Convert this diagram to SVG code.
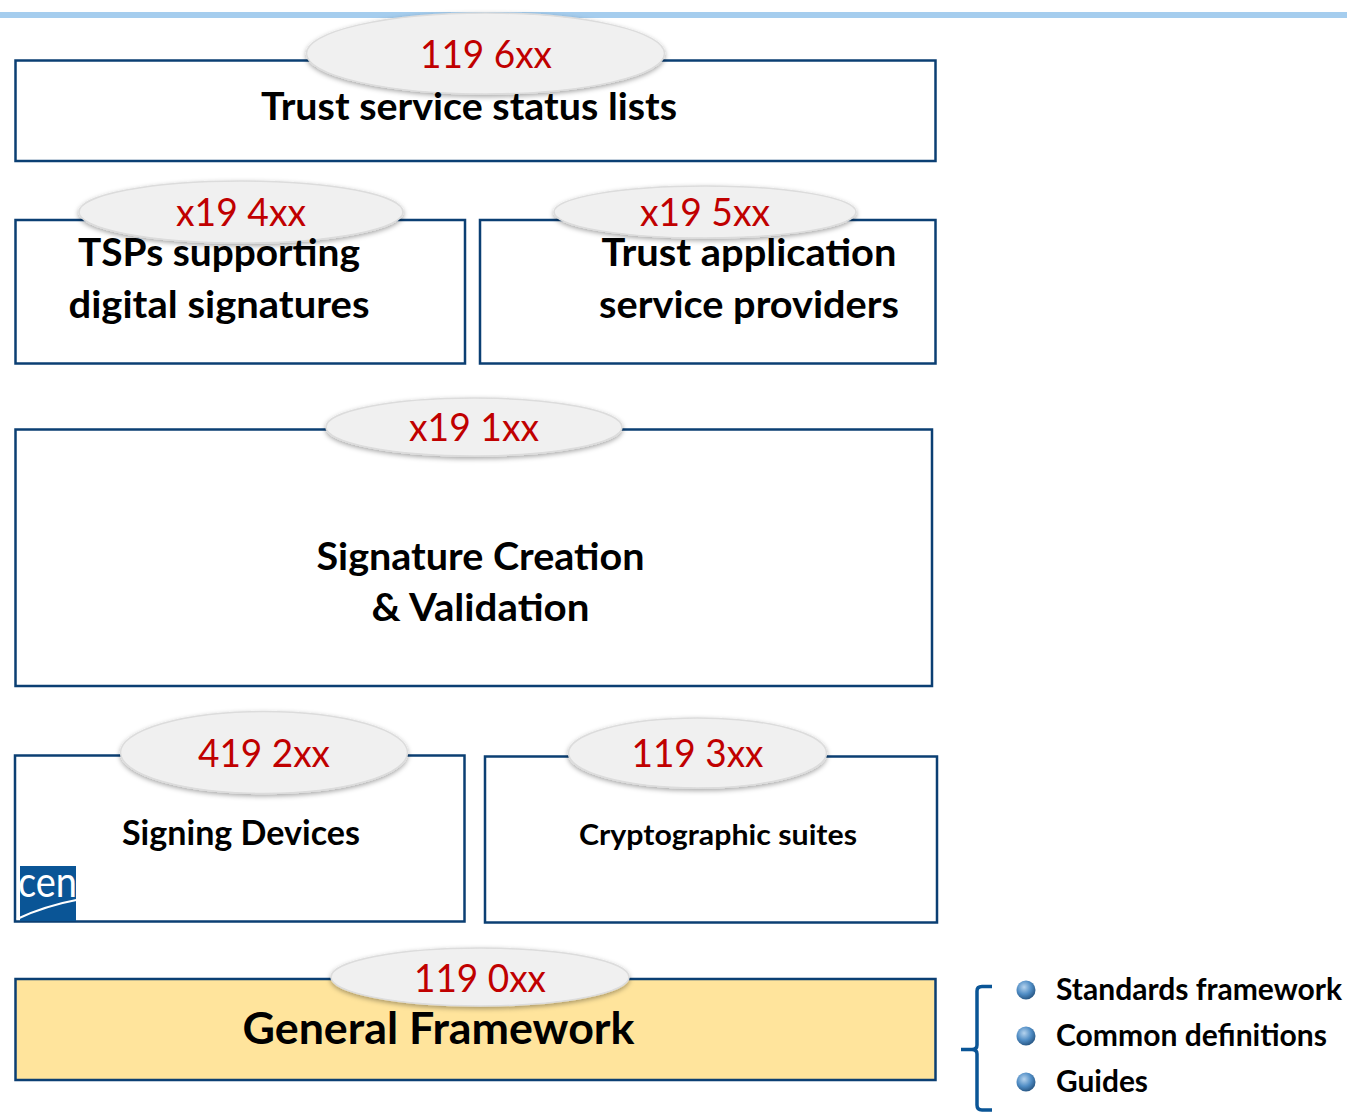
<svg xmlns="http://www.w3.org/2000/svg" width="1347" height="1112" viewBox="0 0 1347 1112">
<style>
.box{fill:#fff;stroke:#0b3f73;stroke-width:2.5}
.oval{fill:#f0f0f0;stroke:#dcdcdc;stroke-width:1.5;filter:url(#sh)}
.num{font-family:Lato,"Liberation Sans",sans-serif;font-size:38px;fill:#c00000;text-anchor:middle}
.t{font-family:Lato,"Liberation Sans",sans-serif;font-weight:700;font-size:38px;fill:#000;text-anchor:middle}
.li{font-family:Lato,"Liberation Sans",sans-serif;font-weight:700;font-size:30px;fill:#000}
</style>
<defs>
<filter id="sh" x="-10%" y="-25%" width="120%" height="150%"><feDropShadow dx="0" dy="2" stdDeviation="2.5" flood-color="#000" flood-opacity=".35"/></filter>
<radialGradient id="ball" cx=".4" cy=".35" r=".7"><stop offset="0" stop-color="#b5d3ee"/><stop offset=".55" stop-color="#4f8cc4"/><stop offset="1" stop-color="#23507c"/></radialGradient>
</defs>
<rect x="0" y="12" width="1347" height="6" fill="#a5cdee"/>
<g id="node-status">
<rect class="box" x="15.500" y="60.500" width="920" height="100.500"/>
<ellipse class="oval" cx="485.500" cy="53.500" rx="179" ry="40.500"/>
<text class="num" x="486" y="68" textLength="132" lengthAdjust="spacingAndGlyphs">119 6xx</text>
<text class="t" x="469" y="120" textLength="416" lengthAdjust="spacingAndGlyphs">Trust service status lists</text>
</g>
<g id="node-tsp">
<rect class="box" x="15.500" y="220" width="449.500" height="143.500"/>
<ellipse class="oval" cx="241" cy="212" rx="162" ry="31"/>
<text class="num" x="241" y="226" textLength="130" lengthAdjust="spacingAndGlyphs">x19 4xx</text>
<text class="t" x="219" y="266" textLength="282" lengthAdjust="spacingAndGlyphs">TSPs supporting</text>
<text class="t" x="219" y="318" textLength="301" lengthAdjust="spacingAndGlyphs">digital signatures</text>
</g>
<g id="node-trust-app">
<rect class="box" x="480" y="220" width="455.500" height="143.500"/>
<ellipse class="oval" cx="705" cy="212" rx="151" ry="26"/>
<text class="num" x="705" y="226" textLength="130" lengthAdjust="spacingAndGlyphs">x19 5xx</text>
<text class="t" x="749" y="266" textLength="295" lengthAdjust="spacingAndGlyphs">Trust application</text>
<text class="t" x="749" y="318" textLength="300" lengthAdjust="spacingAndGlyphs">service providers</text>
</g>
<g id="node-signature">
<rect class="box" x="15.500" y="429.500" width="916.500" height="256.500"/>
<ellipse class="oval" cx="474" cy="427" rx="148" ry="29"/>
<text class="num" x="474" y="441" textLength="130" lengthAdjust="spacingAndGlyphs">x19 1xx</text>
<text class="t" x="480.500" y="570" textLength="328" lengthAdjust="spacingAndGlyphs">Signature Creation</text>
<text class="t" x="480.500" y="621" textLength="218" lengthAdjust="spacingAndGlyphs">&amp; Validation</text>
</g>
<g id="node-devices">
<rect class="box" x="15" y="755.500" width="449.500" height="166"/>
<ellipse class="oval" cx="264" cy="752.500" rx="143.500" ry="41"/>
<text class="num" x="264" y="767" textLength="132" lengthAdjust="spacingAndGlyphs">419 2xx</text>
<text class="t" x="241" y="845" font-size="34" style="font-size:34px" textLength="238" lengthAdjust="spacingAndGlyphs">Signing Devices</text>
<g id="cen-logo">
<rect x="20" y="866" width="56" height="55" fill="#0a5596"/>
<text x="18" y="897" font-family="Lato,'Liberation Sans',sans-serif" font-size="43" font-weight="400" fill="#fff" textLength="59" lengthAdjust="spacingAndGlyphs">cen</text>
<path d="M17 919Q44 906 81 899" fill="none" stroke="#fff" stroke-width="2"/>
</g>
</g>
<g id="node-crypto">
<rect class="box" x="485" y="756.500" width="452" height="166"/>
<ellipse class="oval" cx="697.500" cy="753" rx="129" ry="35"/>
<text class="num" x="697.500" y="767" textLength="132" lengthAdjust="spacingAndGlyphs">119 3xx</text>
<text class="t" x="718" y="845" style="font-size:29px" textLength="278" lengthAdjust="spacingAndGlyphs">Cryptographic  suites</text>
</g>
<g id="node-framework">
<rect class="box" x="15.500" y="979" width="920" height="101" style="fill:#ffe49c"/>
<ellipse class="oval" cx="480" cy="977" rx="149" ry="29"/>
<text class="num" x="480" y="992" textLength="132" lengthAdjust="spacingAndGlyphs">119 0xx</text>
<text class="t" x="438.500" y="1044" style="font-size:44px" textLength="392" lengthAdjust="spacingAndGlyphs">General Framework</text>
</g>
<g id="connectors">
<path d="M992 986.500H982Q977 986.500 977 991V1045Q977 1049.500 972 1049.500H961H972Q977 1049.500 977 1054V1105Q977 1110 982 1110H992" fill="none" stroke="#0a5596" stroke-width="3.500"/>
</g>
<g id="node-list">
<circle cx="1026" cy="990" r="9.500" fill="url(#ball)"/>
<text class="li" x="1056" y="1000" textLength="286" lengthAdjust="spacingAndGlyphs">Standards framework</text>
<circle cx="1026" cy="1036" r="9.500" fill="url(#ball)"/>
<text class="li" x="1056" y="1046" textLength="271" lengthAdjust="spacingAndGlyphs">Common definitions</text>
<circle cx="1026" cy="1082" r="9.500" fill="url(#ball)"/>
<text class="li" x="1056" y="1092" textLength="92" lengthAdjust="spacingAndGlyphs">Guides</text>
</g>
</svg>
